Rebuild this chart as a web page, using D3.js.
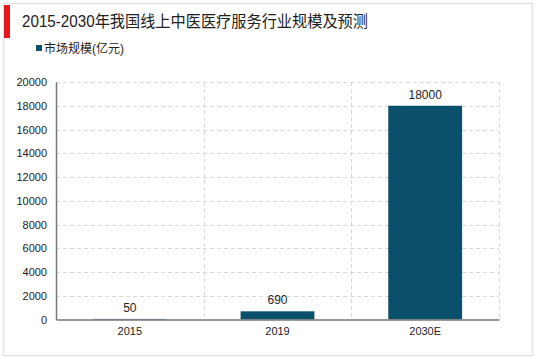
<!DOCTYPE html>
<html>
<head>
<meta charset="utf-8">
<script src="https://cdn.jsdelivr.net/npm/d3@7/dist/d3.min.js"></script>
<style>
  html, body { margin: 0; padding: 0; background: #fff; }
  svg { display: block; }
  text { font-family: "Liberation Sans", Arial, "Noto Sans CJK SC", sans-serif; }
</style>
</head>
<body>
<svg id="chart" width="539" height="359"></svg>
<script>
const title = "2015-2030年我国线上中医医疗服务行业规模及预测";
const seriesName = "市场规模(亿元)";
const categories = ["2015", "2019", "2030E"];
const values = [50, 690, 18000];
const yTicks = [0, 2000, 4000, 6000, 8000, 10000, 12000, 14000, 16000, 18000, 20000];

const W = 539, H = 359;
const svg = d3.select("#chart");
const color = "#0b506a";

// outer frame
svg.append("rect").attr("x", 3.5).attr("y", 3.5).attr("width", 529).attr("height", 352)
  .attr("fill", "#fff").attr("stroke", "#e3e3e3").attr("stroke-width", 1.5);

// red marker
svg.append("rect").attr("x", 4).attr("y", 5).attr("width", 6).attr("height", 33).attr("fill", "#e8141b");

// title
svg.append("text").attr("x", 22).attr("y", 27).attr("font-size", 16).attr("fill", "#222")
  .attr("textLength", 346).attr("lengthAdjust", "spacingAndGlyphs")
  .style("font-family", "'Liberation Sans', 'Noto Sans CJK SC', sans-serif")
  .text(title);

// legend
svg.append("rect").attr("x", 36).attr("y", 45).attr("width", 6).attr("height", 6).attr("fill", color);
svg.append("text").attr("x", 44).attr("y", 53).attr("font-size", 12).attr("fill", "#222")
  .style("font-family", "'Liberation Sans', 'Noto Sans CJK SC', sans-serif")
  .text(seriesName);

const m = { left: 56, right: 499, top: 82, bottom: 319.5 };
const x = d3.scaleBand().domain(categories).range([m.left, m.right]).paddingInner(0).paddingOuter(0);
const y = d3.scaleLinear().domain([0, 20000]).range([m.bottom, m.top]);

const g = svg.append("g");

// horizontal grid
g.selectAll(".hg").data(yTicks.filter(d => d > 0)).enter().append("line")
  .attr("x1", m.left).attr("x2", m.right)
  .attr("y1", d => Math.round(y(d)) + 0.5).attr("y2", d => Math.round(y(d)) + 0.5)
  .attr("stroke", "#d9d9d9").attr("stroke-dasharray", "4,3");

// vertical grid at category boundaries
const bounds = categories.slice(1).map(c => x(c)).concat([m.right]);
g.selectAll(".vg").data(bounds).enter().append("line")
  .attr("x1", d => Math.round(d) + 0.5).attr("x2", d => Math.round(d) + 0.5)
  .attr("y1", m.top).attr("y2", m.bottom)
  .attr("stroke", "#d9d9d9").attr("stroke-dasharray", "4,3");

// bars
const bw = x.bandwidth() * 0.5;
g.selectAll(".bar").data(values).enter().append("rect")
  .attr("x", (d, i) => x(categories[i]) + (x.bandwidth() - bw) / 2)
  .attr("width", bw)
  .attr("y", d => y(d))
  .attr("height", d => m.bottom - y(d))
  .attr("fill", color);

// value labels
g.selectAll(".vl").data(values).enter().append("text")
  .attr("x", (d, i) => x(categories[i]) + x.bandwidth() / 2)
  .attr("y", d => y(d) - 7)
  .attr("text-anchor", "middle").attr("font-size", 12).attr("fill", "#222")
  .text(d => d);

// y axis
const yAxis = d3.axisLeft(y).tickValues(yTicks).tickSize(0).tickPadding(9).tickFormat(d3.format("d"));
const ya = svg.append("g").attr("transform", `translate(${m.left},0)`).call(yAxis);
ya.select(".domain").attr("stroke", "#777").attr("stroke-width", 1.5);
ya.selectAll("text").attr("font-size", 11).attr("fill", "#222")
  .style("font-family", "'Liberation Sans', Arial, sans-serif");

// x axis
const xAxis = d3.axisBottom(x).tickSize(0).tickPadding(8);
const xa = svg.append("g").attr("transform", `translate(0,${m.bottom})`).call(xAxis);
xa.select(".domain").attr("stroke", "#777").attr("stroke-width", 1.5);
xa.selectAll("text").attr("font-size", 11).attr("fill", "#222")
  .style("font-family", "'Liberation Sans', Arial, sans-serif");
</script>
</body>
</html>
